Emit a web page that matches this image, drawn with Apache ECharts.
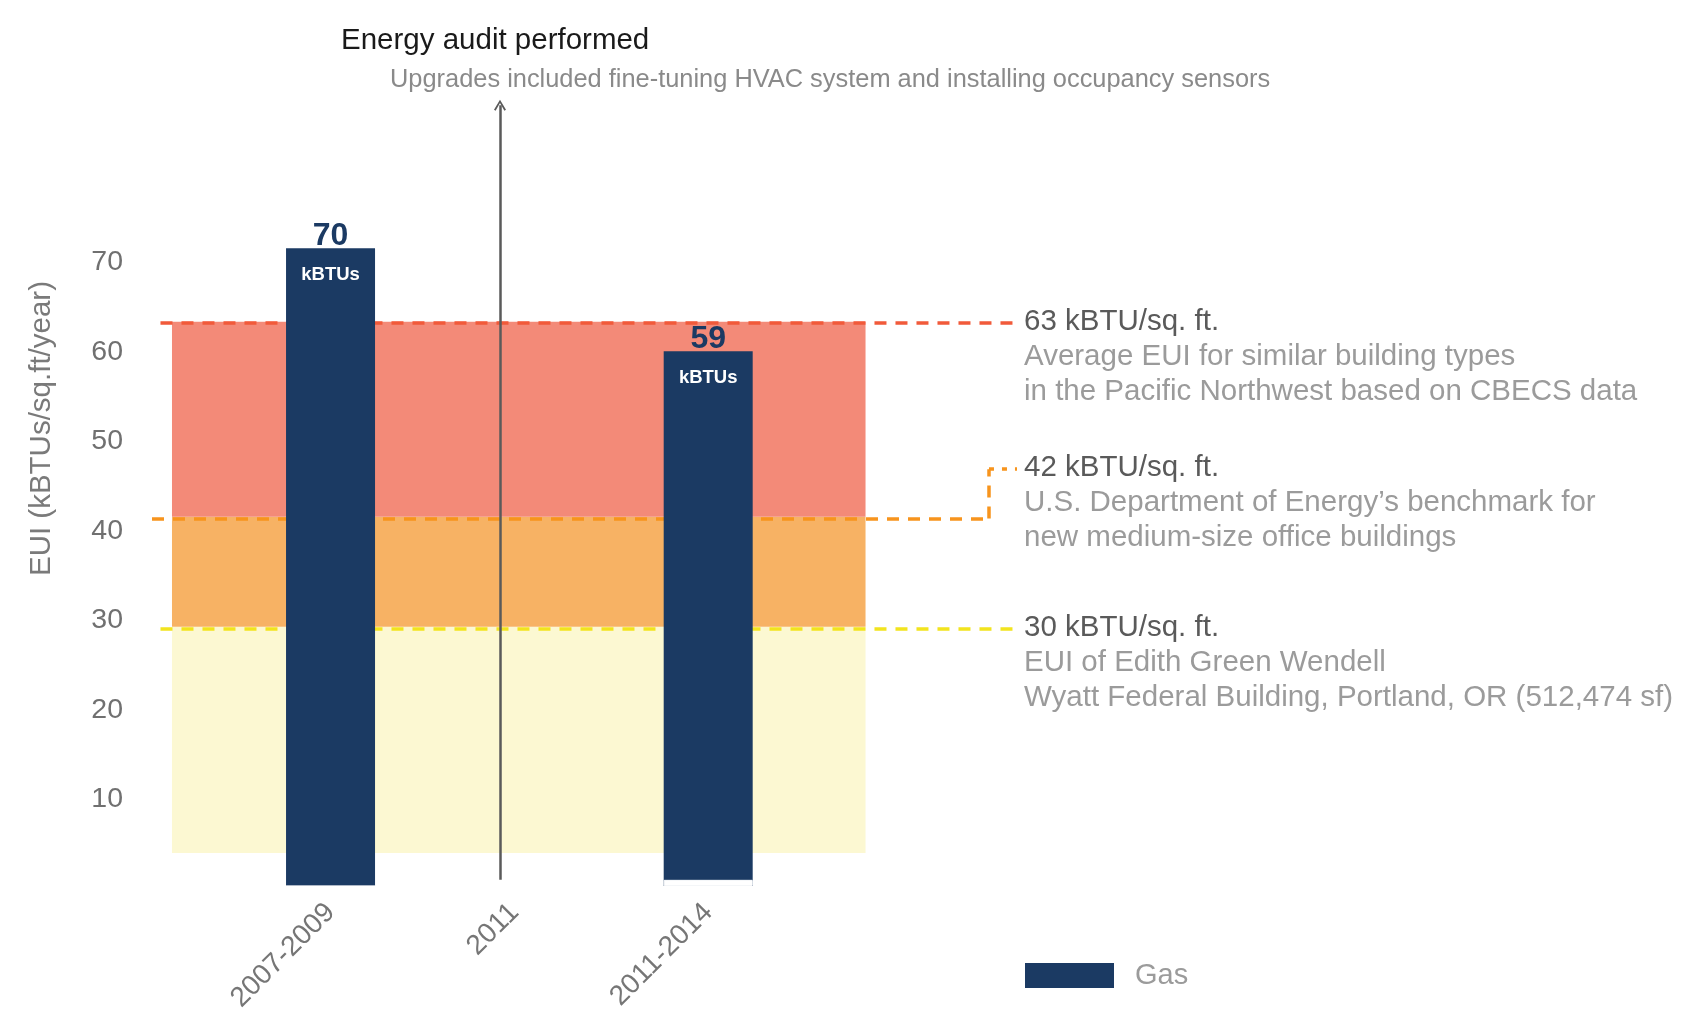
<!DOCTYPE html>
<html>
<head>
<meta charset="utf-8">
<script src="https://cdn.jsdelivr.net/npm/echarts@6/dist/echarts.min.js"></script>
<style>
  html, body { margin: 0; padding: 0; background: #ffffff; }
  #chart { width: 1682px; height: 1011px; }
</style>
</head>
<body>
<div id="chart"></div>
<script>
// ---------------- data ----------------
const categories = ['2007-2009', '2011', '2011-2014'];
const gasTop = [71.3, null, 59.8];     // top of each Gas bar (EUI)
const gasBase = [0, null, 0.7];        // bottom of each Gas bar (EUI)
const gasLabels = ['70', '', '59'];
const yTicks = [10, 20, 30, 40, 50, 60, 70];
const bandEdges = [3.7, 29.0, 41.3, 63.1];       // yellow / orange / red bands
const benchmarkLevels = [63.0, 41.1, 28.8];       // dashed reference lines
const benchmarkTitles = ['63 kBTU/sq. ft.', '42 kBTU/sq. ft.', '30 kBTU/sq. ft.'];
const benchmarkNotes = [
  ['Average EUI for similar building types', 'in the Pacific Northwest based on CBECS data'],
  ['U.S. Department of Energy\u2019s benchmark for', 'new medium-size office buildings'],
  ['EUI of Edith Green Wendell', 'Wyatt Federal Building, Portland, OR (512,474 sf)']
];
const auditTitle = 'Energy audit performed';
const auditNote = 'Upgrades included fine-tuning HVAC system and installing occupancy sensors';
const auditCategory = '2011';

// ---------------- layout (axis units, x axis runs 0..100) ----------------
const categoryPos = [20.64, 41.9, 64.3];
const auditPos = 40.23;
const bandX = [2.31, 82.49];
const lineStartX = 0.98;
const orangeBendX = 96.76;
const orangeUpperY = 46.6;
const yMax = 88;

// ---------------- styles ----------------
const FONT = "'Liberation Sans', Arial, Helvetica, sans-serif";
const NAVY = '#1b3a63';
const bandColors = ['#fcf8d2', '#f7b264', '#f38a78'];
const lineColors = ['#f15a3a', '#f7941d', '#f2e41e'];

const gasData = [], baseData = [];
categories.forEach((c, i) => {
  if (gasTop[i] == null) return;
  gasData.push({ value: [categoryPos[i], gasTop[i]], name: gasLabels[i] });
  baseData.push({ value: [categoryPos[i], gasBase[i]] });
});

function noteLabel(i) {
  return {
    show: true,
    position: 'end',
    distance: 7,
    padding: [68, 0, 0, 0],
    formatter: '{a|' + benchmarkTitles[i] + '}\n' + benchmarkNotes[i].map(t => '{b|' + t + '}').join('\n'),
    rich: {
      a: { fontFamily: FONT, fontSize: 29.5, color: '#5a5a5a', lineHeight: 35 },
      b: { fontFamily: FONT, fontSize: 29.5, color: '#9b9b9b', lineHeight: 35 }
    }
  };
}
function lineStyle(i) {
  return { color: lineColors[i], width: 3.5, type: [12, 9] };
}

const refLines = [
  [{ coord: [lineStartX, benchmarkLevels[0]], lineStyle: lineStyle(0), label: noteLabel(0) },
   { coord: [100, benchmarkLevels[0]] }],
  [{ coord: [0, benchmarkLevels[1]], lineStyle: lineStyle(1), label: { show: false } },
   { coord: [orangeBendX, benchmarkLevels[1]] }],
  [{ coord: [orangeBendX, benchmarkLevels[1]], lineStyle: lineStyle(1), label: { show: false } },
   { coord: [orangeBendX, orangeUpperY] }],
  [{ coord: [orangeBendX, orangeUpperY], lineStyle: { color: lineColors[1], width: 3.5, type: [5, 8] }, label: noteLabel(1) },
   { coord: [100, orangeUpperY] }],
  [{ coord: [lineStartX, benchmarkLevels[2]], lineStyle: lineStyle(2), label: noteLabel(2) },
   { coord: [100, benchmarkLevels[2]] }]
];

const bands = [0, 1, 2].map(i => [
  { xAxis: bandX[0], yAxis: bandEdges[i], itemStyle: { color: bandColors[i] } },
  { xAxis: bandX[1], yAxis: bandEdges[i + 1] }
]);

const chart = echarts.init(document.getElementById('chart'), null, { renderer: 'canvas' });
chart.setOption({
  animation: false,
  backgroundColor: '#ffffff',
  textStyle: { fontFamily: FONT },
  title: [
    { text: auditTitle, left: 341, top: 26, padding: 0,
      textStyle: { fontFamily: FONT, fontSize: 29.5, fontWeight: 'normal', color: '#1a1a1a' } },
    { text: auditNote, left: 390, top: 67, padding: 0,
      textStyle: { fontFamily: FONT, fontSize: 25.4, fontWeight: 'normal', color: '#8a8a8a' } }
  ],
  legend: {
    data: ['Gas'], left: 1025, top: 961, padding: 0, selectedMode: false,
    icon: 'rect', itemWidth: 89, itemHeight: 25,
    textStyle: { fontFamily: FONT, fontSize: 29, color: '#9b9b9b', padding: [0, 0, 0, 16] }
  },
  grid: { left: 152, right: 665, top: 98.9, bottom: 124.9, containLabel: false, outerBoundsMode: 'none' },
  xAxis: {
    type: 'value', min: 0, max: 100,
    axisLine: { show: false }, axisTick: { show: false }, splitLine: { show: false },
    axisLabel: {
      customValues: categoryPos,
      rotate: 45, margin: 22,
      fontFamily: FONT, fontSize: 28, color: '#767676',
      formatter: v => {
        const i = categoryPos.findIndex(p => Math.abs(p - v) < 1e-6);
        return i >= 0 ? categories[i] : '';
      }
    }
  },
  yAxis: {
    type: 'value', min: 0, max: yMax,
    name: 'EUI (kBTUs/sq.ft/year)', nameLocation: 'middle', nameGap: 95,
    nameTextStyle: { fontFamily: FONT, fontSize: 29.5, color: '#7a7a7a', padding: [0, 0, 0, 128] },
    axisLine: { show: false }, axisTick: { show: false }, splitLine: { show: false },
    axisLabel: {
      customValues: yTicks, margin: 29,
      formatter: v => '{t|' + v + '}',
      rich: { t: { fontFamily: FONT, fontSize: 28.5, color: '#707070', padding: [5, 0, 0, 0] } }
    }
  },
  series: [
    {
      name: 'Gas', type: 'bar', barWidth: 89, barGap: '-100%', z: 2,
      itemStyle: { color: NAVY },
      data: gasData,
      label: {
        show: true, position: 'insideTop', distance: 0, offset: [0, -31.5],
        formatter: p => '{n|' + p.name + '}\n{u|kBTUs}',
        rich: {
          n: { fontFamily: FONT, fontSize: 32, fontWeight: 'bold', color: NAVY, lineHeight: 39 },
          u: { fontFamily: FONT, fontSize: 18.5, fontWeight: 'bold', color: '#ffffff', lineHeight: 39 }
        }
      },
      markLine: {
        silent: true, z: 5,
        symbol: ['none', 'path://M0,10 L6,0 L12,10 L10.4,10.8 L6,3.2 L1.6,10.8 Z'],
        symbolSize: [12, 11],
        label: { show: false },
        lineStyle: { color: '#5a5a5a', width: 2.5, type: 'solid' },
        data: [[{ coord: [auditPos, gasBase[2]], name: auditCategory }, { coord: [auditPos, yMax - 0.7] }]]
      }
    },
    {
      // bar bottoms: the part of each bar below its base is left blank
      name: 'base', type: 'bar', barWidth: 89, barGap: '-100%', z: 3,
      itemStyle: { color: '#ffffff', borderColor: '#ffffff', borderWidth: 1 }, silent: true,
      data: baseData,
      markArea: { silent: true, z: 1, label: { show: false }, data: bands },
      markLine: { silent: true, z: 1.5, symbol: 'none', data: refLines }
    }
  ]
});
</script>
</body>
</html>
